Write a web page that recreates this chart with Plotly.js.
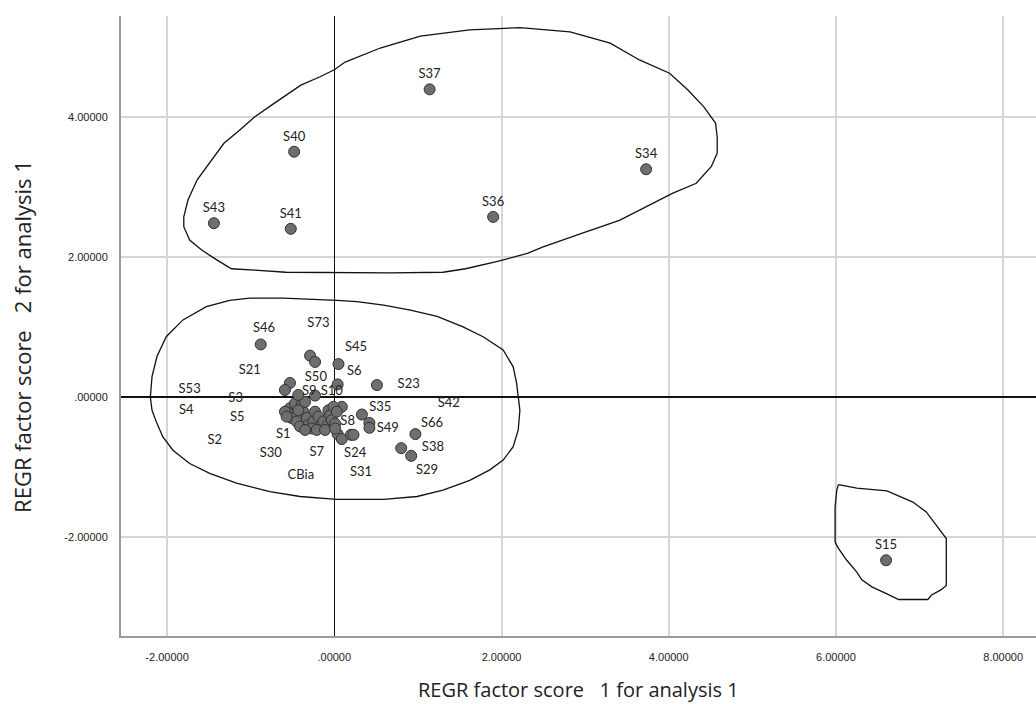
<!DOCTYPE html>
<html>
<head>
<meta charset="utf-8">
<script src="https://cdn.plot.ly/plotly-3.0.1.min.js"></script>
<style>html,body{margin:0;padding:0;background:#fff;}#chart{width:1036px;height:704px;}</style>
</head>
<body>
<div id="chart"></div>
<script>
// ---- Data: factor scores ----
const outerNames = ['S37','S40','S34','S43','S41','S36','S15'];
const outerX = [1.14, -0.48, 3.73, -1.44, -0.52, 1.90, 6.60];
const outerY = [4.39, 3.50, 3.25, 2.48, 2.40, 2.57, -2.33];

const clusterX = [-0.88, -0.29, -0.23, 0.05, 0.04, 0.51, -0.53, -0.59, -0.23,
  0.09, 0.33, 0.42, 0.42, 0.97, 0.80, 0.92, 0.04, 0.09, 0.20, 0.23,
  -0.53, -0.55, -0.51, -0.45, -0.47, -0.39, -0.37, -0.33, -0.41, -0.31,
  -0.25, -0.23, -0.19, -0.17, -0.13, -0.09, -0.07, -0.05, -0.03, 0.01,
  -0.01, 0.03, -0.27, -0.35, -0.21, -0.11, 0.01, -0.35, -0.43, -0.59, -0.57, -0.43];
const clusterY = [0.75, 0.59, 0.50, 0.47, 0.18, 0.17, 0.20, 0.10, 0.02,
  -0.14, -0.25, -0.37, -0.44, -0.53, -0.73, -0.84, -0.53, -0.60, -0.54, -0.54,
  -0.16, -0.23, -0.30, -0.35, -0.09, -0.11, -0.21, -0.30, -0.42, -0.40,
  -0.35, -0.21, -0.28, -0.42, -0.35, -0.42, -0.19, -0.26, -0.33, -0.38,
  -0.14, -0.21, -0.45, -0.47, -0.47, -0.47, -0.45, -0.07, -0.19, -0.21, -0.28, 0.03];

// labels of the central cluster, at the positions where they are printed
const clusterLabels = ['S46','S73','S45','S6','S21','S50','S23','S53','S3','S9','S10','S35','S42',
  'S4','S5','S66','S8','S49','S2','S1','S38','S30','S7','S24','S29','CBia','S31'];
const clusterLabelX = [-0.84, -0.19, 0.26, 0.24, -1.01, -0.22, 0.89, -1.73, -1.18, -0.30, -0.03, 0.55, 1.37,
  -1.77, -1.16, 1.17, 0.16, 0.64, -1.43, -0.61, 1.18, -0.76, -0.21, 0.25, 1.11, -0.40, 0.32];
const clusterLabelY = [0.97, 1.04, 0.70, 0.36, 0.38, 0.28, 0.17, 0.10, -0.03, 0.08, 0.08, -0.15, -0.09,
  -0.20, -0.29, -0.38, -0.35, -0.45, -0.63, -0.54, -0.73, -0.81, -0.80, -0.81, -1.05, -1.12, -1.08];

// hand-drawn group outlines
const topOutlineX = [0.13, 0.55, 1.03, 1.62, 2.22, 2.82, 3.30, 3.65, 4.01, 4.23, 4.42, 4.56, 4.58, 4.58, 4.51, 4.33, 4.05,
  3.73, 3.41, 2.95, 2.49, 2.31, 1.94, 1.57, 1.30, 0.66, 0.00, -0.58, -0.95, -1.23, -1.41, -1.59, -1.73, -1.80, -1.80,
  -1.75, -1.64, -1.50, -1.32, -1.13, -0.95, -0.72, -0.40, -0.17, 0.00, 0.13];
const topOutlineY = [4.78, 4.98, 5.15, 5.24, 5.27, 5.21, 5.05, 4.81, 4.62, 4.38, 4.14, 3.91, 3.71, 3.48, 3.29, 3.05, 2.91,
  2.71, 2.52, 2.33, 2.14, 2.05, 1.93, 1.83, 1.78, 1.77, 1.77, 1.78, 1.81, 1.83, 1.96, 2.10, 2.24, 2.43, 2.57,
  2.81, 3.10, 3.33, 3.62, 3.81, 4.00, 4.19, 4.45, 4.57, 4.67, 4.78];

const midOutlineX = [-1.25, -1.53, -1.81, -2.01, -2.12, -2.18, -2.20, -2.18, -2.12, -2.05, -1.93, -1.73, -1.49, -1.17,
  -0.77, -0.41, 0.03, 0.59, 0.99, 1.30, 1.62, 1.86, 2.02, 2.14, 2.20, 2.22, 2.18, 2.14, 2.02, 1.78, 1.54, 1.23,
  0.91, 0.59, 0.27, 0.03, -0.61, -1.01, -1.25];
const midOutlineY = [1.38, 1.29, 1.10, 0.86, 0.58, 0.29, 0.00, -0.19, -0.38, -0.57, -0.76, -0.95, -1.09, -1.23,
  -1.35, -1.42, -1.46, -1.46, -1.42, -1.33, -1.19, -1.04, -0.90, -0.71, -0.47, -0.19, 0.20, 0.43, 0.67, 0.86, 1.00, 1.15,
  1.24, 1.31, 1.36, 1.38, 1.41, 1.41, 1.38];

const lowOutlineX = [6.03, 6.25, 6.61, 6.92, 7.08, 7.20, 7.32, 7.32, 7.32, 7.26, 7.14, 7.10, 6.75, 6.61, 6.43, 6.31,
  6.25, 6.13, 6.03, 5.99, 5.99, 6.01, 6.03];
const lowOutlineY = [-1.25, -1.30, -1.34, -1.50, -1.64, -1.83, -2.02, -2.19, -2.69, -2.75, -2.83, -2.89, -2.89, -2.81,
  -2.71, -2.61, -2.50, -2.33, -2.16, -2.07, -1.57, -1.33, -1.25];

const xTickVals = [-2, 0, 2, 4, 6, 8];
const xTickText = ['-2.00000', '.00000', '2.00000', '4.00000', '6.00000', '8.00000'];
const yTickVals = [-2, 0, 2, 4];
const yTickText = ['-2.00000', '.00000', '2.00000', '4.00000'];
const xTitle = 'REGR factor score \u00a0\u00a01 for analysis 1';
const yTitle = 'REGR factor score \u00a0\u00a02 for analysis 1';

const labelFont = {family: 'Lato, "Open Sans", sans-serif', size: 13, color: '#222'};
const outline = (x, y) => ({x, y, type: 'scatter', mode: 'lines', hoverinfo: 'skip',
  line: {color: '#111', width: 1.3, shape: 'linear'}, showlegend: false});
const marker = {size: 11, color: '#6e6e6e', line: {color: '#333', width: 1}};

const traces = [
  outline(topOutlineX, topOutlineY),
  outline(midOutlineX, midOutlineY),
  outline(lowOutlineX, lowOutlineY),
  {x: clusterX, y: clusterY, type: 'scatter', mode: 'markers', marker, showlegend: false},
  {x: outerX, y: outerY, text: outerNames, type: 'scatter', mode: 'markers+text', textposition: 'top center',
   textfont: labelFont, marker, showlegend: false, cliponaxis: false},
  {x: clusterLabelX, y: clusterLabelY, text: clusterLabels, type: 'scatter', mode: 'text',
   textfont: labelFont, showlegend: false}
];

const titleFamily = '"Open Sans", "DejaVu Sans", sans-serif';
const tickFont = {family: '"Liberation Sans", Arial, sans-serif', size: 11, color: '#222'};

const layout = {
  width: 1036, height: 704,
  margin: {l: 121, r: 0, t: 16, b: 68},
  paper_bgcolor: '#fff', plot_bgcolor: '#fff',
  showlegend: false,
  xaxis: {
    range: [-2.551, 8.393], tickvals: xTickVals, ticktext: xTickText,
    showgrid: true, gridcolor: '#d6d6d6', gridwidth: 2,
    zeroline: true, zerolinecolor: '#111', zerolinewidth: 1.5,
    showline: true, linecolor: '#9a9a9a', linewidth: 2,
    ticks: '', tickfont: tickFont, ticklabelstandoff: 10,
    automargin: false, fixedrange: true
  },
  yaxis: {
    range: [-3.411, 5.437], tickvals: yTickVals, ticktext: yTickText,
    showgrid: true, gridcolor: '#d6d6d6', gridwidth: 2,
    zeroline: true, zerolinecolor: '#111', zerolinewidth: 1.5,
    showline: true, linecolor: '#9a9a9a', linewidth: 2,
    ticks: '', tickfont: tickFont, ticklabelstandoff: 9,
    automargin: false, fixedrange: true
  },
  annotations: [
    {text: xTitle, xref: 'paper', yref: 'paper', x: 0.5, y: -0.0855, xanchor: 'center', yanchor: 'middle',
     showarrow: false, borderpad: 0, font: {family: titleFamily, size: 20, color: '#222'}},
    {text: yTitle, xref: 'paper', yref: 'paper', x: -0.1082, y: 0.484, xanchor: 'center', yanchor: 'middle',
     textangle: -90, showarrow: false, borderpad: 0, font: {family: titleFamily, size: 22, color: '#222'}}
  ]
};

Plotly.newPlot('chart', traces, layout, {staticPlot: true, displayModeBar: false});
</script>
</body>
</html>
